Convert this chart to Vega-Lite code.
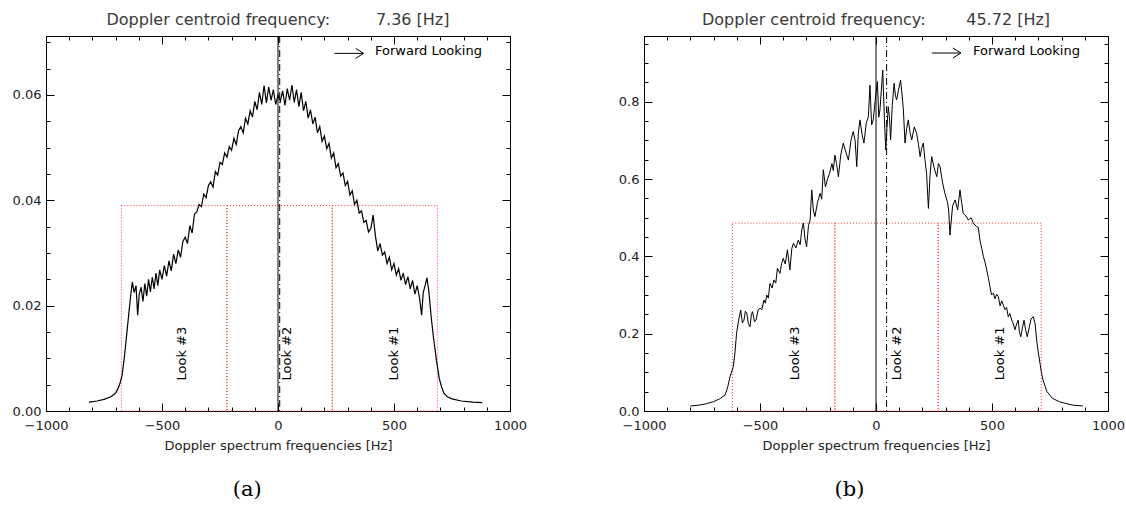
{
  "$schema": "https://vega.github.io/schema/vega-lite/v6.json",
  "padding": {"left": 11, "top": 11, "right": 2, "bottom": 2},
  "spacing": 89,
  "config": {
    "font": "DejaVu Sans",
    "axis": {"domainColor": "black", "tickColor": "black", "labelColor": "#222", "labelFont": "DejaVu Sans", "labelFontSize": 13, "titleFont": "DejaVu Sans", "titleColor": "#222", "titleFontWeight": "normal", "titleFontSize": 13, "grid": false, "tickWidth": 1, "domainWidth": 1, "labelOverlap": false, "labelFlush": false},
    "view": {"stroke": "black"},
    "title": {"font": "DejaVu Sans", "fontWeight": "normal", "fontSize": 16, "color": "#3a3a3a"}
  },
  "datasets": {
    "a": [
      {"f": -815, "p": 0.0017}, {"f": -780, "p": 0.0019}, {"f": -750, "p": 0.0022}, {"f": -720, "p": 0.0027}, {"f": -700, "p": 0.0034}, {"f": -690, "p": 0.0042}, {"f": -680, "p": 0.0054}, {"f": -672, "p": 0.0068}, {"f": -665, "p": 0.0092}, {"f": -658, "p": 0.0120}, {"f": -650, "p": 0.0155}, {"f": -643, "p": 0.0185}, {"f": -636, "p": 0.0215}, {"f": -628, "p": 0.0245}, {"f": -620, "p": 0.0225}, {"f": -612, "p": 0.0238}, {"f": -605, "p": 0.0182}, {"f": -598, "p": 0.0222},
      {"f": -590, "p": 0.0235}, {"f": -582, "p": 0.0208}, {"f": -574, "p": 0.0242}, {"f": -566, "p": 0.0218}, {"f": -558, "p": 0.0250}, {"f": -550, "p": 0.0226}, {"f": -542, "p": 0.0254}, {"f": -534, "p": 0.0232}, {"f": -526, "p": 0.0262}, {"f": -518, "p": 0.0238}, {"f": -510, "p": 0.0268}, {"f": -500, "p": 0.0250}, {"f": -490, "p": 0.0276}, {"f": -480, "p": 0.0256}, {"f": -470, "p": 0.0285}, {"f": -460, "p": 0.0266}, {"f": -450, "p": 0.0298}, {"f": -440, "p": 0.0280}, {"f": -430, "p": 0.0306}, {"f": -420, "p": 0.0292}, {"f": -410, "p": 0.0322}, {"f": -400, "p": 0.0330}, {"f": -390, "p": 0.0318}, {"f": -380, "p": 0.0352}, {"f": -370, "p": 0.0338}, {"f": -360, "p": 0.0374}, {"f": -350, "p": 0.0378}, {"f": -340, "p": 0.0392}, {"f": -330, "p": 0.0388}, {"f": -320, "p": 0.0412}, {"f": -310, "p": 0.0405}, {"f": -300, "p": 0.0428}, {"f": -290, "p": 0.0435}, {"f": -280, "p": 0.0425}, {"f": -270, "p": 0.0455}, {"f": -260, "p": 0.0448}, {"f": -250, "p": 0.0472}, {"f": -240, "p": 0.0468}, {"f": -230, "p": 0.0490}, {"f": -220, "p": 0.0482}, {"f": -210, "p": 0.0502}, {"f": -200, "p": 0.0495}, {"f": -190, "p": 0.0518}, {"f": -180, "p": 0.0506}, {"f": -170, "p": 0.0532}, {"f": -160, "p": 0.0540}, {"f": -150, "p": 0.0528}, {"f": -140, "p": 0.0556}, {"f": -130, "p": 0.0545}, {"f": -120, "p": 0.0570}, {"f": -110, "p": 0.0558}, {"f": -100, "p": 0.0588}, {"f": -90, "p": 0.0572}, {"f": -80, "p": 0.0605}, {"f": -70, "p": 0.0582}, {"f": -60, "p": 0.0618}, {"f": -50, "p": 0.0585}, {"f": -40, "p": 0.0615}, {"f": -30, "p": 0.0590}, {"f": -20, "p": 0.0610}, {"f": -10, "p": 0.0582},
      {"f": 0, "p": 0.0600}, {"f": 10, "p": 0.0588}, {"f": 20, "p": 0.0608}, {"f": 30, "p": 0.0580}, {"f": 40, "p": 0.0612}, {"f": 50, "p": 0.0590}, {"f": 60, "p": 0.0619}, {"f": 70, "p": 0.0586}, {"f": 80, "p": 0.0610}, {"f": 90, "p": 0.0578}, {"f": 100, "p": 0.0605}, {"f": 110, "p": 0.0570}, {"f": 120, "p": 0.0588}, {"f": 130, "p": 0.0556}, {"f": 140, "p": 0.0572}, {"f": 150, "p": 0.0545}, {"f": 160, "p": 0.0558}, {"f": 170, "p": 0.0528}, {"f": 180, "p": 0.0540}, {"f": 190, "p": 0.0512}, {"f": 200, "p": 0.0522}, {"f": 210, "p": 0.0498}, {"f": 220, "p": 0.0508}, {"f": 230, "p": 0.0480}, {"f": 240, "p": 0.0490}, {"f": 250, "p": 0.0462}, {"f": 260, "p": 0.0470}, {"f": 270, "p": 0.0446}, {"f": 280, "p": 0.0452}, {"f": 290, "p": 0.0428}, {"f": 300, "p": 0.0436}, {"f": 310, "p": 0.0410}, {"f": 320, "p": 0.0418}, {"f": 330, "p": 0.0392}, {"f": 340, "p": 0.0400}, {"f": 350, "p": 0.0376}, {"f": 360, "p": 0.0380}, {"f": 370, "p": 0.0358}, {"f": 380, "p": 0.0362}, {"f": 390, "p": 0.0340}, {"f": 400, "p": 0.0346}, {"f": 410, "p": 0.0372}, {"f": 420, "p": 0.0332}, {"f": 430, "p": 0.0304}, {"f": 440, "p": 0.0318}, {"f": 450, "p": 0.0296}, {"f": 460, "p": 0.0302}, {"f": 470, "p": 0.0280}, {"f": 480, "p": 0.0292}, {"f": 490, "p": 0.0268}, {"f": 500, "p": 0.0280}, {"f": 510, "p": 0.0258}, {"f": 520, "p": 0.0270}, {"f": 530, "p": 0.0248}, {"f": 540, "p": 0.0262}, {"f": 550, "p": 0.0240}, {"f": 560, "p": 0.0255}, {"f": 570, "p": 0.0232}, {"f": 580, "p": 0.0248}, {"f": 590, "p": 0.0222}, {"f": 600, "p": 0.0238}, {"f": 610, "p": 0.0215},
      {"f": 619, "p": 0.0182}, {"f": 626, "p": 0.0225}, {"f": 634, "p": 0.0238}, {"f": 642, "p": 0.0253}, {"f": 650, "p": 0.0228}, {"f": 660, "p": 0.0180}, {"f": 670, "p": 0.0140}, {"f": 683, "p": 0.0096}, {"f": 695, "p": 0.0062}, {"f": 705, "p": 0.0046}, {"f": 715, "p": 0.0034}, {"f": 730, "p": 0.0027}, {"f": 750, "p": 0.0023}, {"f": 790, "p": 0.0019}, {"f": 840, "p": 0.0017}, {"f": 880, "p": 0.0016}
    ],
    "b": [
      {"f": -800, "p": 0.013}, {"f": -780, "p": 0.014}, {"f": -759, "p": 0.0155}, {"f": -730, "p": 0.019}, {"f": -701, "p": 0.024}, {"f": -675, "p": 0.031}, {"f": -651, "p": 0.041}, {"f": -640, "p": 0.060}, {"f": -629, "p": 0.089}, {"f": -615, "p": 0.115}, {"f": -608, "p": 0.150}, {"f": -601, "p": 0.201}, {"f": -592, "p": 0.235}, {"f": -583, "p": 0.261}, {"f": -576, "p": 0.228}, {"f": -569, "p": 0.235}, {"f": -563, "p": 0.258}, {"f": -557, "p": 0.253}, {"f": -550, "p": 0.226}, {"f": -543, "p": 0.218}, {"f": -537, "p": 0.250}, {"f": -532, "p": 0.257}, {"f": -524, "p": 0.231}, {"f": -517, "p": 0.235}, {"f": -508, "p": 0.262}, {"f": -500, "p": 0.266}, {"f": -492, "p": 0.262}, {"f": -483, "p": 0.287}, {"f": -477, "p": 0.279}, {"f": -471, "p": 0.300}, {"f": -464, "p": 0.292}, {"f": -457, "p": 0.330}, {"f": -448, "p": 0.318}, {"f": -440, "p": 0.339}, {"f": -432, "p": 0.331}, {"f": -425, "p": 0.369}, {"f": -414, "p": 0.356}, {"f": -407, "p": 0.381}, {"f": -400, "p": 0.395}, {"f": -391, "p": 0.380}, {"f": -382, "p": 0.417}, {"f": -371, "p": 0.365}, {"f": -363, "p": 0.420}, {"f": -356, "p": 0.434}, {"f": -345, "p": 0.422}, {"f": -335, "p": 0.442}, {"f": -327, "p": 0.430}, {"f": -320, "p": 0.468}, {"f": -313, "p": 0.486}, {"f": -306, "p": 0.445}, {"f": -299, "p": 0.425}, {"f": -291, "p": 0.480}, {"f": -284, "p": 0.494}, {"f": -277, "p": 0.572}, {"f": -270, "p": 0.520}, {"f": -263, "p": 0.503}, {"f": -252, "p": 0.540}, {"f": -241, "p": 0.563}, {"f": -234, "p": 0.548}, {"f": -227, "p": 0.624}, {"f": -218, "p": 0.580}, {"f": -210, "p": 0.598}, {"f": -200, "p": 0.615}, {"f": -190, "p": 0.640}, {"f": -184, "p": 0.622}, {"f": -177, "p": 0.662}, {"f": -170, "p": 0.640}, {"f": -162, "p": 0.606}, {"f": -152, "p": 0.662}, {"f": -141, "p": 0.693}, {"f": -130, "p": 0.670}, {"f": -119, "p": 0.649}, {"f": -108, "p": 0.700}, {"f": -98, "p": 0.723}, {"f": -90, "p": 0.700}, {"f": -83, "p": 0.632}, {"f": -76, "p": 0.720}, {"f": -69, "p": 0.753}, {"f": -60, "p": 0.715}, {"f": -52, "p": 0.693}, {"f": -42, "p": 0.745}, {"f": -33, "p": 0.761}, {"f": -26, "p": 0.843}, {"f": -19, "p": 0.740}, {"f": -12, "p": 0.753}, {"f": -4, "p": 0.800},
      {"f": 6, "p": 0.852}, {"f": 12, "p": 0.760}, {"f": 17, "p": 0.779}, {"f": 23, "p": 0.830}, {"f": 29, "p": 0.882}, {"f": 36, "p": 0.760}, {"f": 42, "p": 0.675}, {"f": 48, "p": 0.740}, {"f": 53, "p": 0.787}, {"f": 58, "p": 0.760}, {"f": 63, "p": 0.701}, {"f": 70, "p": 0.790}, {"f": 78, "p": 0.848}, {"f": 84, "p": 0.815}, {"f": 89, "p": 0.805}, {"f": 97, "p": 0.830}, {"f": 106, "p": 0.856}, {"f": 112, "p": 0.820}, {"f": 118, "p": 0.779}, {"f": 125, "p": 0.693}, {"f": 132, "p": 0.730}, {"f": 139, "p": 0.753}, {"f": 147, "p": 0.720}, {"f": 154, "p": 0.701}, {"f": 165, "p": 0.735}, {"f": 175, "p": 0.718}, {"f": 183, "p": 0.690}, {"f": 190, "p": 0.658}, {"f": 197, "p": 0.680}, {"f": 204, "p": 0.693}, {"f": 211, "p": 0.650}, {"f": 218, "p": 0.615}, {"f": 226, "p": 0.524}, {"f": 233, "p": 0.610}, {"f": 240, "p": 0.658}, {"f": 250, "p": 0.630}, {"f": 262, "p": 0.606}, {"f": 269, "p": 0.640}, {"f": 276, "p": 0.632}, {"f": 287, "p": 0.590}, {"f": 297, "p": 0.563}, {"f": 308, "p": 0.540}, {"f": 313, "p": 0.520}, {"f": 319, "p": 0.455}, {"f": 330, "p": 0.530}, {"f": 341, "p": 0.546}, {"f": 352, "p": 0.520}, {"f": 362, "p": 0.572}, {"f": 369, "p": 0.540}, {"f": 376, "p": 0.511}, {"f": 387, "p": 0.505}, {"f": 398, "p": 0.494}, {"f": 410, "p": 0.500}, {"f": 420, "p": 0.485}, {"f": 434, "p": 0.477}, {"f": 441, "p": 0.475}, {"f": 448, "p": 0.442}, {"f": 456, "p": 0.420}, {"f": 463, "p": 0.399}, {"f": 470, "p": 0.385}, {"f": 477, "p": 0.365}, {"f": 484, "p": 0.345}, {"f": 491, "p": 0.322}, {"f": 498, "p": 0.300}, {"f": 506, "p": 0.305}, {"f": 513, "p": 0.290}, {"f": 520, "p": 0.302}, {"f": 527, "p": 0.296}, {"f": 535, "p": 0.272}, {"f": 542, "p": 0.285}, {"f": 549, "p": 0.274}, {"f": 556, "p": 0.262}, {"f": 563, "p": 0.268}, {"f": 570, "p": 0.244}, {"f": 577, "p": 0.252}, {"f": 585, "p": 0.235}, {"f": 592, "p": 0.225}, {"f": 599, "p": 0.210}, {"f": 606, "p": 0.225}, {"f": 613, "p": 0.235}, {"f": 618, "p": 0.205}, {"f": 624, "p": 0.192}, {"f": 631, "p": 0.215}, {"f": 638, "p": 0.235}, {"f": 645, "p": 0.210}, {"f": 652, "p": 0.192}, {"f": 660, "p": 0.215}, {"f": 668, "p": 0.238}, {"f": 678, "p": 0.244}, {"f": 686, "p": 0.225}, {"f": 693, "p": 0.180}, {"f": 700, "p": 0.150}, {"f": 707, "p": 0.123}, {"f": 713, "p": 0.100}, {"f": 720, "p": 0.080}, {"f": 737, "p": 0.050}, {"f": 760, "p": 0.033}, {"f": 790, "p": 0.024}, {"f": 815, "p": 0.020}, {"f": 850, "p": 0.015}, {"f": 891, "p": 0.013}
    ],
    "looksA": [
      {"look": "Look #1", "x0": 234, "x1": 687, "top": 0.039, "lx": 499, "ly": 0.0109},
      {"look": "Look #2", "x0": -220, "x1": 234, "top": 0.039, "lx": 37, "ly": 0.0109},
      {"look": "Look #3", "x0": -675, "x1": -220, "top": 0.039, "lx": -413, "ly": 0.0109}
    ],
    "looksB": [
      {"look": "Look #1", "x0": 268, "x1": 712, "top": 0.486, "lx": 536, "ly": 0.149},
      {"look": "Look #2", "x0": -177, "x1": 268, "top": 0.486, "lx": 92, "ly": 0.149},
      {"look": "Look #3", "x0": -619, "x1": -177, "top": 0.486, "lx": -351, "ly": 0.149}
    ],
    "vlinesA": [{"x": 0, "kind": "zero"}, {"x": 7.36, "kind": "centroid"}],
    "vlinesB": [{"x": 0, "kind": "zero"}, {"x": 45.72, "kind": "centroid"}],
    "fwdA": [{"x0": 244, "x1": 369, "y": 0.0679, "tx": 418, "ty": 0.0683, "label": "Forward Looking"}],
    "fwdB": [{"x0": 241, "x1": 366, "y": 0.926, "tx": 418, "ty": 0.931, "label": "Forward Looking"}]
  },
  "hconcat": [
    {
      "title": {"text": "(a)", "orient": "bottom", "anchor": "middle", "frame": "bounds", "font": "DejaVu Serif", "fontSize": 21, "color": "black", "dx": -22, "offset": 26},
      "vconcat": [
        {
          "width": 464, "height": 375,
          "title": {"text": "Doppler centroid frequency:\u00a0\u00a0\u00a0\u00a0\u00a0\u00a0\u00a0\u00a0\u00a07.36 [Hz]", "offset": 8},
          "resolve": {"axis": {"x": "independent", "y": "independent"}},
          "layer": [
            {
              "data": {"name": "looksA"},
              "mark": {"type": "rect", "fill": null, "stroke": "#ff3030", "strokeWidth": 1, "strokeDash": [1, 2]},
              "encoding": {
                "x": {"field": "x0", "type": "quantitative", "scale": {"domain": [-1000, 1000], "nice": false, "zero": false},
                  "axis": {"orient": "top", "labels": false, "title": null, "values": [-1000, -900, -800, -700, -600, -500, -400, -300, -200, -100, 0, 100, 200, 300, 400, 500, 600, 700, 800, 900, 1000], "tickSize": {"condition": {"test": "abs(datum.value % 500) < 0.5", "value": -8}, "value": -4}}},
                "x2": {"field": "x1"},
                "y": {"field": "top", "type": "quantitative", "scale": {"domain": [0, 0.0712], "nice": false, "zero": false},
                  "axis": {"orient": "right", "labels": false, "title": null, "values": [0, 0.005, 0.01, 0.015, 0.02, 0.025, 0.03, 0.035, 0.04, 0.045, 0.05, 0.055, 0.06, 0.065, 0.07], "tickSize": {"condition": {"test": "abs(datum.value / 0.02 - round(datum.value / 0.02)) < 0.001", "value": -8}, "value": -4}}},
                "y2": {"datum": 0}
              }
            },
            {
              "data": {"name": "vlinesA"},
              "mark": {"type": "rule", "color": "black", "strokeWidth": 1},
              "encoding": {
                "x": {"field": "x", "type": "quantitative", "axis": null, "scale": {"domain": [-1000, 1000], "nice": false, "zero": false}},
                "strokeDash": {"field": "kind", "type": "nominal", "legend": null, "scale": {"domain": ["zero", "centroid"], "range": [[1, 0], [7, 3, 1, 3]]}}
              }
            },
            {
              "data": {"name": "a"},
              "mark": {"type": "line", "color": "black", "strokeWidth": 1.2},
              "encoding": {
                "x": {"field": "f", "type": "quantitative", "scale": {"domain": [-1000, 1000], "nice": false, "zero": false},
                  "axis": {"orient": "bottom", "format": "d", "title": "Doppler spectrum frequencies [Hz]", "titlePadding": 3, "labelPadding": 16, "values": [-1000, -900, -800, -700, -600, -500, -400, -300, -200, -100, 0, 100, 200, 300, 400, 500, 600, 700, 800, 900, 1000], "labelExpr": "abs(datum.value % 500) < 0.5 ? datum.label : ''", "tickSize": {"condition": {"test": "abs(datum.value % 500) < 0.5", "value": -8}, "value": -4}}},
                "y": {"field": "p", "type": "quantitative", "scale": {"domain": [0, 0.0712], "nice": false, "zero": false},
                  "axis": {"orient": "left", "format": ".2f", "title": null, "labelPadding": 13, "values": [0, 0.005, 0.01, 0.015, 0.02, 0.025, 0.03, 0.035, 0.04, 0.045, 0.05, 0.055, 0.06, 0.065, 0.07], "labelExpr": "abs(datum.value / 0.02 - round(datum.value / 0.02)) < 0.001 ? datum.label : ''", "tickSize": {"condition": {"test": "abs(datum.value / 0.02 - round(datum.value / 0.02)) < 0.001", "value": -8}, "value": -4}}}
              }
            },
            {
              "data": {"name": "looksA"},
              "mark": {"type": "text", "angle": 270, "align": "center", "baseline": "middle", "fontSize": 13, "font": "DejaVu Sans", "color": "black"},
              "encoding": {
                "x": {"field": "lx", "type": "quantitative", "axis": null, "scale": {"domain": [-1000, 1000], "nice": false, "zero": false}},
                "y": {"field": "ly", "type": "quantitative", "axis": null, "scale": {"domain": [0, 0.0712], "nice": false, "zero": false}},
                "text": {"field": "look"}
              }
            },
            {
              "data": {"name": "fwdA"},
              "mark": {"type": "rule", "color": "black", "strokeWidth": 1},
              "encoding": {
                "x": {"field": "x0", "type": "quantitative", "axis": null, "scale": {"domain": [-1000, 1000], "nice": false, "zero": false}},
                "x2": {"field": "x1"},
                "y": {"field": "y", "type": "quantitative", "axis": null, "scale": {"domain": [0, 0.0712], "nice": false, "zero": false}}
              }
            },
            {
              "data": {"name": "fwdA"},
              "mark": {"type": "point", "shape": "M-0.8,-0.5L0,0L-0.8,0.5", "filled": false, "stroke": "black", "strokeWidth": 1, "size": 400, "opacity": 1},
              "encoding": {
                "x": {"field": "x1", "type": "quantitative", "axis": null, "scale": {"domain": [-1000, 1000], "nice": false, "zero": false}},
                "y": {"field": "y", "type": "quantitative", "axis": null, "scale": {"domain": [0, 0.0712], "nice": false, "zero": false}}
              }
            },
            {
              "data": {"name": "fwdA"},
              "mark": {"type": "text", "align": "left", "baseline": "middle", "fontSize": 13, "font": "DejaVu Sans", "color": "black"},
              "encoding": {
                "x": {"field": "tx", "type": "quantitative", "axis": null, "scale": {"domain": [-1000, 1000], "nice": false, "zero": false}},
                "y": {"field": "ty", "type": "quantitative", "axis": null, "scale": {"domain": [0, 0.0712], "nice": false, "zero": false}},
                "text": {"field": "label"}
              }
            }
          ]
        }
      ]
    },
    {
      "title": {"text": "(b)", "orient": "bottom", "anchor": "middle", "frame": "bounds", "font": "DejaVu Serif", "fontSize": 21, "color": "black", "dx": -22, "offset": 26},
      "vconcat": [
        {
          "width": 464, "height": 375,
          "title": {"text": "Doppler centroid frequency:\u00a0\u00a0\u00a0\u00a0\u00a0\u00a0\u00a0\u00a045.72 [Hz]", "offset": 8},
          "resolve": {"axis": {"x": "independent", "y": "independent"}},
          "layer": [
            {
              "data": {"name": "looksB"},
              "mark": {"type": "rect", "fill": null, "stroke": "#ff3030", "strokeWidth": 1, "strokeDash": [1, 2]},
              "encoding": {
                "x": {"field": "x0", "type": "quantitative", "scale": {"domain": [-1000, 1000], "nice": false, "zero": false},
                  "axis": {"orient": "top", "labels": false, "title": null, "values": [-1000, -900, -800, -700, -600, -500, -400, -300, -200, -100, 0, 100, 200, 300, 400, 500, 600, 700, 800, 900, 1000], "tickSize": {"condition": {"test": "abs(datum.value % 500) < 0.5", "value": -8}, "value": -4}}},
                "x2": {"field": "x1"},
                "y": {"field": "top", "type": "quantitative", "scale": {"domain": [0, 0.97], "nice": false, "zero": false},
                  "axis": {"orient": "right", "labels": false, "title": null, "values": [0, 0.05, 0.1, 0.15, 0.2, 0.25, 0.3, 0.35, 0.4, 0.45, 0.5, 0.55, 0.6, 0.65, 0.7, 0.75, 0.8, 0.85, 0.9, 0.95], "tickSize": {"condition": {"test": "abs(datum.value / 0.2 - round(datum.value / 0.2)) < 0.001", "value": -8}, "value": -4}}},
                "y2": {"datum": 0}
              }
            },
            {
              "data": {"name": "vlinesB"},
              "mark": {"type": "rule", "color": "black", "strokeWidth": 1},
              "encoding": {
                "x": {"field": "x", "type": "quantitative", "axis": null, "scale": {"domain": [-1000, 1000], "nice": false, "zero": false}},
                "strokeDash": {"field": "kind", "type": "nominal", "legend": null, "scale": {"domain": ["zero", "centroid"], "range": [[1, 0], [7, 3, 1, 3]]}}
              }
            },
            {
              "data": {"name": "b"},
              "mark": {"type": "line", "color": "black", "strokeWidth": 1},
              "encoding": {
                "x": {"field": "f", "type": "quantitative", "scale": {"domain": [-1000, 1000], "nice": false, "zero": false},
                  "axis": {"orient": "bottom", "format": "d", "title": "Doppler spectrum frequencies [Hz]", "titlePadding": 3, "labelPadding": 16, "values": [-1000, -900, -800, -700, -600, -500, -400, -300, -200, -100, 0, 100, 200, 300, 400, 500, 600, 700, 800, 900, 1000], "labelExpr": "abs(datum.value % 500) < 0.5 ? datum.label : ''", "tickSize": {"condition": {"test": "abs(datum.value % 500) < 0.5", "value": -8}, "value": -4}}},
                "y": {"field": "p", "type": "quantitative", "scale": {"domain": [0, 0.97], "nice": false, "zero": false},
                  "axis": {"orient": "left", "format": ".1f", "title": null, "labelPadding": 13, "values": [0, 0.05, 0.1, 0.15, 0.2, 0.25, 0.3, 0.35, 0.4, 0.45, 0.5, 0.55, 0.6, 0.65, 0.7, 0.75, 0.8, 0.85, 0.9, 0.95], "labelExpr": "abs(datum.value / 0.2 - round(datum.value / 0.2)) < 0.001 ? datum.label : ''", "tickSize": {"condition": {"test": "abs(datum.value / 0.2 - round(datum.value / 0.2)) < 0.001", "value": -8}, "value": -4}}}
              }
            },
            {
              "data": {"name": "looksB"},
              "mark": {"type": "text", "angle": 270, "align": "center", "baseline": "middle", "fontSize": 13, "font": "DejaVu Sans", "color": "black"},
              "encoding": {
                "x": {"field": "lx", "type": "quantitative", "axis": null, "scale": {"domain": [-1000, 1000], "nice": false, "zero": false}},
                "y": {"field": "ly", "type": "quantitative", "axis": null, "scale": {"domain": [0, 0.97], "nice": false, "zero": false}},
                "text": {"field": "look"}
              }
            },
            {
              "data": {"name": "fwdB"},
              "mark": {"type": "rule", "color": "black", "strokeWidth": 1},
              "encoding": {
                "x": {"field": "x0", "type": "quantitative", "axis": null, "scale": {"domain": [-1000, 1000], "nice": false, "zero": false}},
                "x2": {"field": "x1"},
                "y": {"field": "y", "type": "quantitative", "axis": null, "scale": {"domain": [0, 0.97], "nice": false, "zero": false}}
              }
            },
            {
              "data": {"name": "fwdB"},
              "mark": {"type": "point", "shape": "M-0.8,-0.5L0,0L-0.8,0.5", "filled": false, "stroke": "black", "strokeWidth": 1, "size": 400, "opacity": 1},
              "encoding": {
                "x": {"field": "x1", "type": "quantitative", "axis": null, "scale": {"domain": [-1000, 1000], "nice": false, "zero": false}},
                "y": {"field": "y", "type": "quantitative", "axis": null, "scale": {"domain": [0, 0.97], "nice": false, "zero": false}}
              }
            },
            {
              "data": {"name": "fwdB"},
              "mark": {"type": "text", "align": "left", "baseline": "middle", "fontSize": 13, "font": "DejaVu Sans", "color": "black"},
              "encoding": {
                "x": {"field": "tx", "type": "quantitative", "axis": null, "scale": {"domain": [-1000, 1000], "nice": false, "zero": false}},
                "y": {"field": "ty", "type": "quantitative", "axis": null, "scale": {"domain": [0, 0.97], "nice": false, "zero": false}},
                "text": {"field": "label"}
              }
            }
          ]
        }
      ]
    }
  ]
}
